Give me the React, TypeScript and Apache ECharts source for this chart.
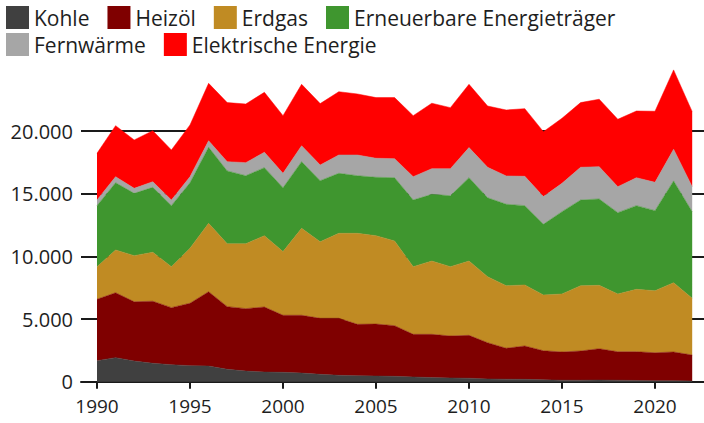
import React, { useEffect, useRef } from "react";
import * as echarts from "echarts";

const years: string[] = Array.from({ length: 33 }, (_, i) => String(1990 + i));

const kohle = [1680,1920,1650,1470,1360,1280,1250,990,850,770,750,690,590,510,480,450,430,380,330,300,280,220,200,190,150,120,120,130,120,100,80,80,60];
const heizoel = [4900,5180,4730,4950,4550,4980,5930,5000,4980,5190,4550,4610,4470,4550,4100,4150,4040,3400,3450,3350,3420,2890,2470,2660,2320,2250,2330,2500,2270,2290,2230,2290,2070];
const erdgas = [2600,3410,3680,3910,3270,4390,5460,5020,5180,5690,5080,6940,6110,6780,7260,7050,6760,5400,5850,5530,5930,5270,4990,4870,4450,4630,5210,5060,4610,4980,4950,5530,4530];
const erneuerbar = [4870,5370,4970,5180,4870,5230,6070,5810,5430,5430,5100,5320,4870,4790,4600,4660,5050,5320,5320,5660,6650,6300,6500,6330,5640,6570,6840,6890,6490,6680,6390,8120,6910];
const fernwaerme = [450,480,400,450,450,480,520,740,1040,1230,1150,1270,1250,1460,1650,1520,1520,1860,2050,2160,2400,2430,2260,2340,2210,2260,2610,2580,2070,2230,2260,2530,1990];
const elektrisch = [3730,4070,3860,4070,3990,4130,4580,4710,4680,4780,4600,4900,4900,5050,4870,4840,4870,4870,5220,4870,5050,4890,5260,5400,5180,5190,5160,5380,5380,5320,5670,6330,5990];

const seriesDefs = [
  { name: "Kohle", values: kohle, color: "#404040" },
  { name: "Heizöl", values: heizoel, color: "#7f0000" },
  { name: "Erdgas", values: erdgas, color: "#c08b23" },
  { name: "Erneuerbare Energieträger", values: erneuerbar, color: "#3f962f" },
  { name: "Fernwärme", values: fernwaerme, color: "#a6a6a6" },
  { name: "Elektrische Energie", values: elektrisch, color: "#ff0000" },
];

const FONT = "'Open Sans', sans-serif";
const TEXT = "#1e1e1e";
const LINE = "#1a1a1a";
const Y_MAX = 25000;
const Y_STEP = 5000;

export default function App() {
  const ref = useRef<HTMLDivElement>(null);
  useEffect(() => {
    if (!ref.current) return;
    const chart = echarts.init(ref.current, undefined, { renderer: "svg" });
    const legendBase = {
      left: 6,
      padding: 0,
      itemWidth: 23,
      itemHeight: 23,
      itemGap: 18,
      icon: "rect",
      selectedMode: false,
      textStyle: { fontFamily: FONT, fontSize: 21, color: TEXT },
    };
    chart.setOption({
      animation: false,
      textStyle: { fontFamily: FONT },
      legend: [
        { ...legendBase, top: 6, data: seriesDefs.slice(0, 4).map((s) => s.name) },
        { ...legendBase, top: 33, data: seriesDefs.slice(4).map((s) => s.name) },
      ],
      grid: [
        { left: 97, right: 11.8, top: 68.4, height: 313.3, containLabel: false },
        { left: 81, right: 0, top: 68.4, height: 313.3, containLabel: false },
      ],
      xAxis: [
        {
          type: "category",
          gridIndex: 0,
          data: years,
          boundaryGap: false,
          axisLine: { show: false },
          splitLine: { show: false },
          axisTick: {
            show: true,
            interval: 4,
            length: 7,
            lineStyle: { color: LINE, width: 2 },
          },
          axisLabel: {
            interval: 4,
            fontFamily: FONT,
            fontSize: 19,
            color: TEXT,
            margin: 15,
          },
        },
        {
          type: "value",
          gridIndex: 1,
          min: 0,
          max: 1,
          axisLine: { show: true, onZero: false, lineStyle: { color: LINE, width: 2 } },
          axisTick: { show: false },
          axisLabel: { show: false },
          splitLine: { show: false },
        },
      ],
      yAxis: [
        {
          type: "value",
          gridIndex: 0,
          min: 0,
          max: Y_MAX,
          interval: Y_STEP,
          show: false,
          splitLine: { show: false },
        },
        {
          type: "value",
          gridIndex: 1,
          min: 0,
          max: Y_MAX,
          interval: Y_STEP,
          axisLine: { show: false },
          axisTick: { show: false },
          splitLine: {
            show: true,
            showMaxLine: false,
            lineStyle: { color: LINE, width: 2 },
          },
          axisLabel: {
            showMaxLabel: false,
            fontFamily: FONT,
            fontSize: 20,
            color: TEXT,
            margin: 8,
            formatter: (v: number) => v.toLocaleString("de-DE"),
          },
        },
      ],
      series: seriesDefs.map((s) => ({
        name: s.name,
        type: "line",
        xAxisIndex: 0,
        yAxisIndex: 0,
        stack: "total",
        symbol: "none",
        z: 3,
        lineStyle: { width: 0.5, color: s.color },
        itemStyle: { color: s.color },
        areaStyle: { color: s.color, opacity: 1 },
        data: s.values,
      })),
    });
    return () => chart.dispose();
  }, []);
  return (
    <div
      ref={ref}
      style={{ position: "fixed", left: 0, top: 0, width: 704, height: 423, background: "#fff" }}
    />
  );
}
